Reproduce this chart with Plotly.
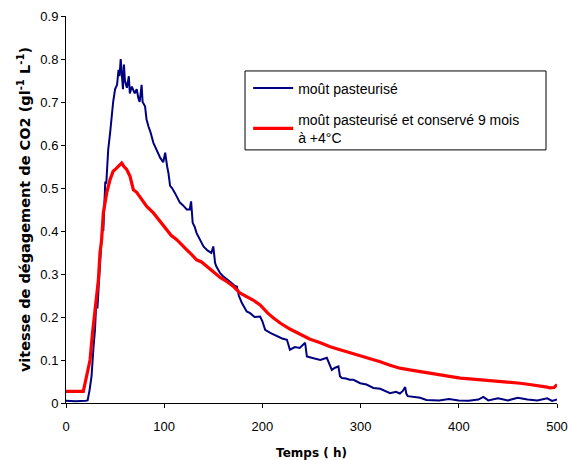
import plotly.graph_objects as go

# Blue series: moût pasteurisé
blue_t = [0, 10, 20, 22, 24, 26, 28, 29.5, 31, 32, 34, 35, 37, 38, 40, 41, 43, 45, 46.5, 48, 50, 52, 53.5, 54.5,
          55.7, 57, 58, 59, 60, 62, 64, 65, 67, 70, 72, 73.7, 75, 77, 78, 80.5, 82, 84, 86, 89, 92, 94, 96, 99,
          101, 103, 104.3, 106, 108, 111, 113, 116, 119, 123, 126, 127.4, 129, 131, 133, 136.5, 140, 144, 148,
          150, 151.8, 153, 157, 160, 163.7, 168, 172, 174, 176, 179, 184, 187.5, 192, 197.7, 200, 202.8, 208,
          214.7, 220, 225, 228, 233, 238, 243.5, 245.3, 252, 259, 265.6, 268, 270.7, 274, 277.4, 279, 280.9,
          285, 289, 292.7, 299.6, 306, 313, 320, 330, 336, 340, 343, 345.4, 346.5, 348, 355, 360.7, 367, 380,
          390, 400, 410, 420, 425, 430, 440, 450, 460, 470, 480, 490, 495, 500]
blue_v = [0.005, 0.004, 0.005, 0.006, 0.03, 0.062, 0.13, 0.17, 0.24, 0.22, 0.30, 0.33, 0.41, 0.40, 0.515, 0.51,
          0.59, 0.63, 0.667, 0.70, 0.73, 0.74, 0.775, 0.76, 0.80, 0.76, 0.73, 0.787, 0.75, 0.733, 0.76, 0.72,
          0.736, 0.72, 0.73, 0.709, 0.70, 0.74, 0.70, 0.69, 0.66, 0.643, 0.63, 0.605, 0.59, 0.58, 0.57, 0.56,
          0.582, 0.55, 0.535, 0.505, 0.50, 0.488, 0.48, 0.466, 0.46, 0.45, 0.45, 0.469, 0.419, 0.41, 0.395,
          0.38, 0.364, 0.355, 0.349, 0.364, 0.326, 0.318, 0.302, 0.295, 0.287, 0.28, 0.272, 0.271, 0.25, 0.233,
          0.213, 0.209, 0.20, 0.201, 0.19, 0.17, 0.163, 0.155, 0.15, 0.147, 0.124, 0.13, 0.128, 0.14, 0.108,
          0.104, 0.10, 0.105, 0.09, 0.077, 0.082, 0.085, 0.062, 0.058, 0.057, 0.054, 0.054, 0.046, 0.043, 0.035,
          0.033, 0.023, 0.026, 0.022, 0.028, 0.037, 0.022, 0.016, 0.014, 0.012, 0.007, 0.006, 0.009, 0.006,
          0.005, 0.008, 0.014, 0.006, 0.011, 0.006, 0.012, 0.008, 0.006, 0.011, 0.005, 0.008]

# Red series: moût pasteurisé et conservé 9 mois à +4°C
red_t = [0, 10, 17.6, 19.4, 22, 24.5, 27, 29.5, 31, 33, 34.6, 36.3, 38, 40, 41.4, 44.8, 48, 51, 53.3, 56.7, 59,
         61.8, 65.2, 68.6, 72, 75.4, 82.2, 89, 95.8, 102.6, 107, 112.8, 116, 123, 128, 133, 138, 143.4, 150,
         157, 164, 170.5, 177, 184, 190, 197.7, 205, 211, 218, 228, 238.4, 248, 259, 269, 279, 289, 299.6, 310,
         320, 330, 340, 350, 360.7, 370, 381, 391, 401.5, 411, 422, 432, 442, 452, 462.6, 472, 483, 490, 493,
         497, 500]
red_v = [0.027, 0.027, 0.027, 0.046, 0.07, 0.10, 0.163, 0.21, 0.25, 0.287, 0.349, 0.38, 0.442, 0.47, 0.488,
         0.519, 0.539, 0.545, 0.55, 0.558, 0.55, 0.543, 0.527, 0.496, 0.49, 0.48, 0.457, 0.442, 0.422, 0.403,
         0.39, 0.38, 0.372, 0.356, 0.345, 0.333, 0.328, 0.318, 0.305, 0.292, 0.282, 0.271, 0.256, 0.248, 0.24,
         0.228, 0.21, 0.198, 0.186, 0.172, 0.159, 0.149, 0.14, 0.131, 0.124, 0.117, 0.11, 0.104, 0.096, 0.088,
         0.081, 0.077, 0.073, 0.069, 0.066, 0.062, 0.058, 0.056, 0.054, 0.052, 0.05, 0.048, 0.046, 0.043, 0.04,
         0.037, 0.035, 0.036, 0.043]

x_ticks = [0, 100, 200, 300, 400, 500]
y_ticks = [0, 0.1, 0.2, 0.3, 0.4, 0.5, 0.6, 0.7, 0.8, 0.9]

fig = go.Figure()
fig.add_trace(go.Scatter(x=blue_t, y=blue_v, mode="lines", name="moût pasteurisé",
                         line=dict(color="#000080", width=2), legendgroup="a"))
fig.add_trace(go.Scatter(x=red_t, y=red_v, mode="lines", name="moût pasteurisé et conservé 9 mois<br>à +4°C",
                         line=dict(color="#ff0000", width=3.2), legendgroup="b"))

font = "Liberation Sans, Arial, sans-serif"
bold_font = "DejaVu Sans, Verdana, sans-serif"
fig.update_layout(
    width=568, height=460,
    margin=dict(l=66, r=11, t=16, b=57),
    paper_bgcolor="white", plot_bgcolor="white",
    font=dict(family=font, size=13, color="black"),
    showlegend=True,
    legend=dict(x=0.371, y=0.854, xanchor="left", yanchor="top", bgcolor="rgba(0,0,0,0)",
                borderwidth=0, font=dict(size=14, family=font), tracegroupgap=10,
                traceorder="grouped", itemwidth=40),
    xaxis=dict(range=[0, 500], tickvals=x_ticks, showgrid=False, zeroline=False, automargin=False,
               showline=True, linecolor="black", linewidth=1, ticks="outside", ticklen=4,
               tickcolor="black", tickfont=dict(size=13), ticklabelstandoff=7,
               title=dict(text="<b>Temps ( h)</b>", font=dict(size=12, family=bold_font), standoff=18)),
    yaxis=dict(range=[0, 0.9], tickvals=y_ticks, showgrid=False, zeroline=False, automargin=False,
               showline=True, linecolor="black", linewidth=1, ticks="outside", ticklen=4,
               tickcolor="black", tickfont=dict(size=13),
               title=dict(text="<b>vitesse de dégagement de CO2 (gl<sup>-1</sup> L<sup>-1</sup>)</b>",
                          font=dict(size=14.5, family=bold_font), standoff=6)),
    shapes=[dict(type="rect", xref="paper", yref="paper", x0=0.3646, x1=0.9776, y0=0.654, y1=0.858,
                 line=dict(color="black", width=1), fillcolor="rgba(0,0,0,0)")],
)

fig.write_html("out.html")
